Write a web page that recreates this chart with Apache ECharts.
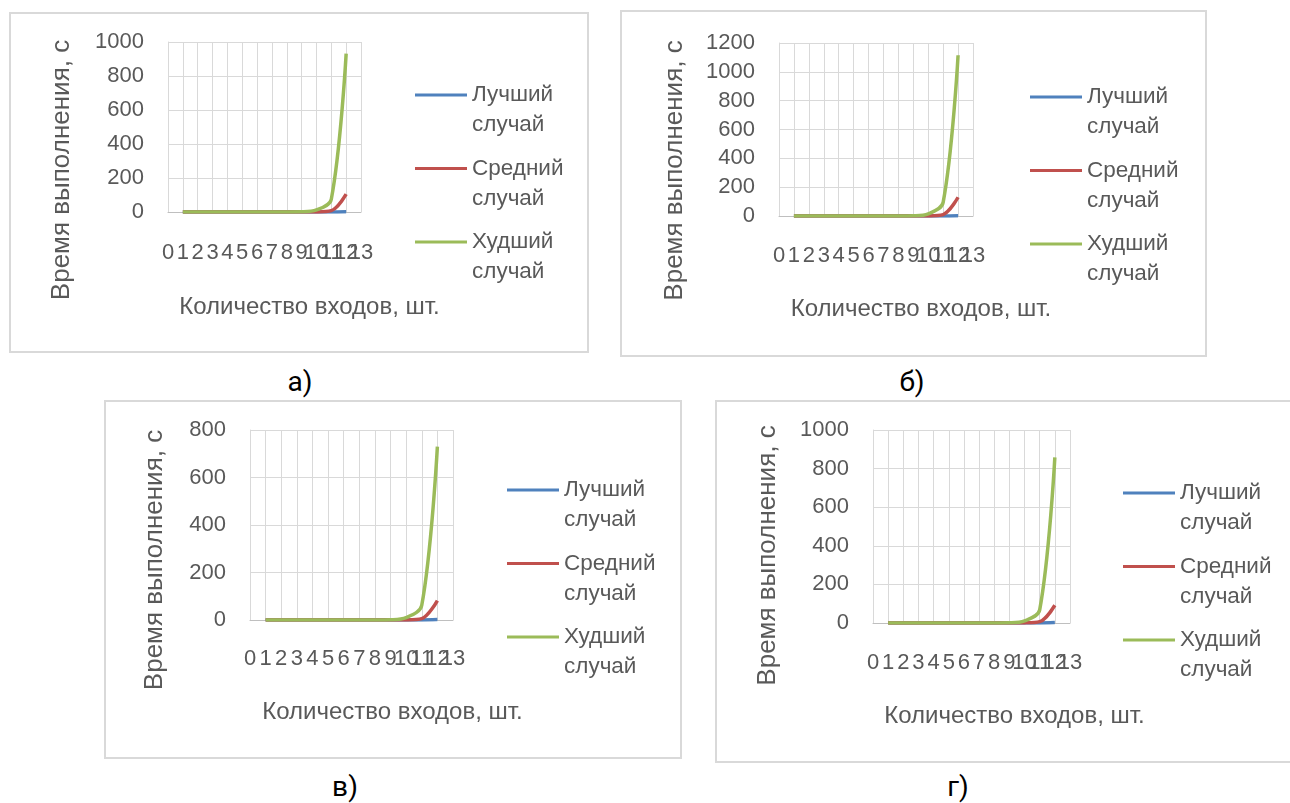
<!DOCTYPE html>
<html>
<head>
<meta charset="utf-8">
<script src="https://cdn.jsdelivr.net/npm/echarts@6/dist/echarts.min.js"></script>
<style>
  html, body { margin: 0; padding: 0; background: #ffffff; }
  body { width: 1290px; height: 803px; position: relative; overflow: hidden; }
  .box { position: absolute; border: 2px solid #d9d9d9; box-sizing: border-box; }
  .chart { position: absolute; }
  .cap { position: absolute; font-family: Roboto, "Liberation Sans", sans-serif; font-size: 28px; color: #000; transform: translate(-50%, -50%); white-space: nowrap; }
</style>
</head>
<body>
<div class="box" style="left:9px;top:12px;width:580px;height:341px;"></div>
<div class="box" style="left:620px;top:10px;width:587px;height:347px;"></div>
<div class="box" style="left:104px;top:400px;width:578px;height:359px;"></div>
<div class="box" style="left:715px;top:400px;width:590px;height:363px;"></div>
<div id="ca" class="chart" style="left:9px;top:12px;width:579px;height:340px;"></div>
<div id="cb" class="chart" style="left:620px;top:10px;width:586px;height:346px;"></div>
<div id="cc" class="chart" style="left:104px;top:400px;width:577px;height:358px;"></div>
<div id="cd" class="chart" style="left:715px;top:400px;width:575px;height:362px;"></div>
<div class="cap" style="left:300px;top:381px;">а)</div>
<div class="cap" style="left:912px;top:381px;">б)</div>
<div class="cap" style="left:345px;top:786px;">в)</div>
<div class="cap" style="left:958px;top:786px;">г)</div>
<script>
// ---- data ----
const inputs = [1, 2, 3, 4, 5, 6, 7, 8, 9, 10, 11, 12];
const xTicks = [0, 1, 2, 3, 4, 5, 6, 7, 8, 9, 10, 11, 12, 13];
const seriesNames = ['Лучший случай', 'Средний случай', 'Худший случай'];
const xAxisTitle = 'Количество входов, шт.';
const yAxisTitle = 'Время выполнения, с';

const bestA  = [0, 0, 0, 0, 0, 0, 0, 0, 0, 0, 0.3, 2];
const avgA   = [0, 0, 0, 0, 0, 0, 0, 0, 0, 0.5, 8, 105];
const worstA = [0, 0, 0, 0, 0, 0, 0, 0.1, 1, 12, 75, 932];

const bestB  = [0, 0, 0, 0, 0, 0, 0, 0, 0, 0, 0.3, 2.5];
const avgB   = [0, 0, 0, 0, 0, 0, 0, 0, 0, 0.6, 10, 130];
const worstB = [0, 0, 0, 0, 0, 0, 0, 0.1, 1.5, 15, 95, 1115];

const bestC  = [0, 0, 0, 0, 0, 0, 0, 0, 0, 0, 0.2, 1.8];
const avgC   = [0, 0, 0, 0, 0, 0, 0, 0, 0, 0.4, 6, 82];
const worstC = [0, 0, 0, 0, 0, 0, 0, 0.1, 1, 10, 62, 730];

const bestD  = [0, 0, 0, 0, 0, 0, 0, 0, 0, 0, 0.2, 2];
const avgD   = [0, 0, 0, 0, 0, 0, 0, 0, 0, 0.5, 7, 92];
const worstD = [0, 0, 0, 0, 0, 0, 0, 0.1, 1, 11, 68, 858];

const yMaxA = 1000, yMaxB = 1200, yMaxC = 800, yMaxD = 1000;
const yStep = 200;

// ---- styling ----
const colors = ['#4F81BD', '#C0504D', '#9BBB59'];
const FONT = '"Liberation Sans", Arial, sans-serif';
const TXT = '#595959';

function pairs(vals) { return inputs.map((x, i) => [x, vals[i]]); }

function makeOption(p) {
  const xMin = xTicks[0], xMax = xTicks[xTicks.length - 1];
  return {
    animation: false,
    color: colors,
    textStyle: { fontFamily: FONT },
    grid: { left: p.gl, top: p.gt, width: p.gw, height: p.gh, containLabel: false },
    legend: {
      orient: 'vertical',
      left: p.ll, top: p.lt,
      padding: 0,
      icon: 'rect',
      itemWidth: 52, itemHeight: 3,
      itemGap: -16.5,
      data: seriesNames,
      formatter: n => ' \n' + n.replace(' ', '\n'),
      textStyle: { color: TXT, fontSize: 22.5, lineHeight: 30, fontFamily: FONT }
    },
    xAxis: [{
      type: 'value',
      min: xMin, max: xMax, interval: 1,
      name: xAxisTitle, nameLocation: 'middle', nameGap: p.xng,
      nameTextStyle: { color: TXT, fontSize: 24, fontFamily: FONT, padding: [0, 0, 0, p.xshift] },
      axisLine: { show: true, lineStyle: { color: '#BFBFBF', width: 1 } },
      axisTick: { show: false },
      axisLabel: { color: TXT, fontSize: 22, margin: p.xlm, fontFamily: FONT,
                   showMinLabel: true, showMaxLabel: false, hideOverlap: false,
                   formatter: v => (v === xMax ? '' : String(v)) },
      splitLine: { show: true, lineStyle: { color: '#D9D9D9', width: 1 } }
    }, {
      // carries only the last tick label (13), which the first axis would drop as overlapping
      type: 'value', position: 'bottom', gridIndex: 0,
      min: xMin, max: xMax, interval: 1,
      axisLine: { show: false }, axisTick: { show: false }, splitLine: { show: false },
      axisLabel: { color: TXT, fontSize: 22, margin: p.xlm, fontFamily: FONT,
                   customValues: [xMax], showMinLabel: false, showMaxLabel: true, hideOverlap: false,
                   formatter: v => (v === xMax ? String(v) : '') }
    }],
    yAxis: {
      type: 'value',
      min: 0, max: p.ymax, interval: yStep,
      name: yAxisTitle, nameLocation: 'middle', nameGap: p.yng, nameRotate: 90,
      nameTextStyle: { color: TXT, fontSize: 26, fontFamily: FONT, padding: [0, p.yshift, 0, 0] },
      axisLine: { show: true, lineStyle: { color: '#D9D9D9', width: 1 } },
      axisTick: { show: false },
      axisLabel: { color: TXT, fontSize: 22, margin: p.ylm, fontFamily: FONT, formatter: v => String(v) },
      splitLine: { show: true, lineStyle: { color: '#D9D9D9', width: 1 } }
    },
    series: [p.best, p.avg, p.worst].map((d, i) => ({
      name: seriesNames[i],
      type: 'line',
      xAxisIndex: 0,
      data: pairs(d),
      smooth: 0.35,
      showSymbol: false,
      symbol: 'none',
      lineStyle: { width: 3.5, color: colors[i] },
      itemStyle: { color: colors[i] },
      z: 2 + i
    }))
  };
}

const panels = [
  { id: 'ca', gl: 159, gt: 30, gw: 193, gh: 170, ll: 406, lt: 38, xng: 83, xshift: 90, xlm: 30, yng: 93, yshift: 86, ylm: 24, ymax: yMaxA, best: bestA, avg: avgA, worst: worstA },
  { id: 'cb', gl: 159, gt: 33, gw: 194, gh: 173, ll: 410, lt: 42, xng: 81, xshift: 90, xlm: 29, yng: 91, yshift: 82, ylm: 24, ymax: yMaxB, best: bestB, avg: avgB, worst: worstB },
  { id: 'cc', gl: 146, gt: 30, gw: 203, gh: 190, ll: 403, lt: 45, xng: 80, xshift: 82, xlm: 28, yng: 82, yshift: 70, ylm: 24, ymax: yMaxC, best: bestC, avg: avgC, worst: worstC },
  { id: 'cd', gl: 158, gt: 30, gw: 197, gh: 193, ll: 408, lt: 48, xng: 81, xshift: 86, xlm: 29, yng: 92, yshift: 58, ylm: 24, ymax: yMaxD, best: bestD, avg: avgD, worst: worstD }
];

panels.forEach(p => {
  const chart = echarts.init(document.getElementById(p.id), null, { renderer: 'canvas' });
  chart.setOption(makeOption(p));
});
</script>
</body>
</html>
